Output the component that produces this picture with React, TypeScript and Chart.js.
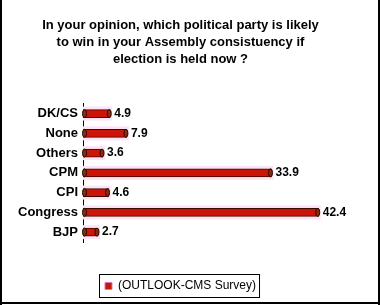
import React, { useEffect, useRef } from "react";
import { Chart, registerables } from "chart.js";

Chart.register(...registerables);

const categories = ["DK/CS", "None", "Others", "CPM", "CPI", "Congress", "BJP"];
const values = [4.9, 7.9, 3.6, 33.9, 4.6, 42.4, 2.7];
const seriesLabel = "(OUTLOOK-CMS Survey)";
const titleLines = [
  "In your opinion, which political party is likely",
  "to win in your Assembly consistuency if",
  "election is held now ?",
];

const FONT = "'Liberation Sans', Arial, sans-serif";

const decorPlugin = {
  id: "decor",
  beforeDatasetsDraw(chart: any) {
    const ctx = chart.ctx;
    const meta = chart.getDatasetMeta(0);
    ctx.save();
    ctx.fillStyle = "#fde3f6";
    meta.data.forEach((bar: any) => {
      const left = Math.min(bar.base, bar.x);
      const w = Math.abs(bar.x - bar.base);
      ctx.fillRect(left, bar.y - 7, w + 2, 14);
    });
    ctx.restore();
  },
  afterDatasetsDraw(chart: any) {
    const ctx = chart.ctx;
    const meta = chart.getDatasetMeta(0);
    const ds = chart.data.datasets[0];
    ctx.save();
    meta.data.forEach((bar: any, i: number) => {
      ctx.fillStyle = "#7a3414";
      ctx.strokeStyle = "#2a0800";
      ctx.lineWidth = 1;
      ctx.beginPath();
      ctx.ellipse(bar.base + 1.5, bar.y, 2, 4, 0, 0, Math.PI * 2);
      ctx.fill();
      ctx.stroke();
      ctx.fillStyle = "#8a2a10";
      ctx.beginPath();
      ctx.ellipse(bar.x - 1, bar.y, 2, 4, 0, 0, Math.PI * 2);
      ctx.fill();
      ctx.stroke();
      ctx.fillStyle = "#000";
      ctx.font = `bold 12px ${FONT}`;
      ctx.textAlign = "left";
      ctx.textBaseline = "middle";
      ctx.fillText(String(ds.data[i]), bar.x + 4, bar.y);
    });
    ctx.restore();
  },
  afterDraw(chart: any) {
    const ctx = chart.ctx;
    ctx.save();
    const hb = chart.legend && chart.legend.legendHitBoxes && chart.legend.legendHitBoxes[0];
    if (hb) {
      ctx.strokeStyle = "#000";
      ctx.lineWidth = 1;
      ctx.strokeRect(Math.round(hb.left) - 5.5, Math.round(hb.top) - 5.5, hb.width + 9, hb.height + 11);
    }
    ctx.fillStyle = "#000";
    ctx.fillRect(0, 0, 2, chart.height);
    ctx.fillRect(chart.width - 2, 0, 2, chart.height);
    ctx.fillRect(0, chart.height - 3, chart.width, 2);
    ctx.restore();
  },
};

export default function App() {
  const ref = useRef<HTMLCanvasElement | null>(null);
  useEffect(() => {
    if (!ref.current) return;
    const chart = new Chart(ref.current, {
      type: "bar",
      data: {
        labels: categories,
        datasets: [
          {
            label: seriesLabel,
            data: values,
            backgroundColor: "#cc1408",
            borderColor: "#3a0a00",
            borderWidth: 1,
            barThickness: 8,
          },
        ],
      },
      options: {
        indexAxis: "y",
        animation: false,
        responsive: false,
        layout: { padding: { left: 0, right: 19, top: 0, bottom: 3 } },
        scales: {
          x: {
            min: 0,
            max: 50,
            ticks: { display: false },
            grid: { display: false },
            border: { display: false },
            afterFit: (s: any) => {
              s.height = 32;
            },
          },
          y: {
            grid: { display: false, drawTicks: false },
            border: { display: true, color: "#000", width: 1 },
            ticks: {
              color: "#000",
              padding: 5,
              font: { family: FONT, size: 13, weight: "bold" },
            },
            afterFit: (s: any) => {
              s.width = 83;
            },
          },
        },
        plugins: {
          title: {
            display: true,
            text: titleLines,
            color: "#000",
            font: { family: FONT, size: 13, weight: "bold", lineHeight: 1.3 },
            padding: { top: 17, bottom: 36 },
          },
          legend: {
            display: true,
            position: "bottom",
            labels: {
              color: "#000",
              boxWidth: 7,
              boxHeight: 7,
              padding: 6,
              font: { family: FONT, size: 12 },
              generateLabels: () => [
                {
                  text: seriesLabel,
                  fillStyle: "#c01a0a",
                  strokeStyle: "#e070c0",
                  lineWidth: 1,
                  hidden: false,
                  datasetIndex: 0,
                },
              ],
            },
          },
          tooltip: { enabled: false },
        },
      },
      plugins: [decorPlugin],
    } as any);
    return () => chart.destroy();
  }, []);
  return (
    <div style={{ position: "absolute", left: 0, top: 0, width: 380, height: 305, background: "#fff" }}>
      <canvas ref={ref} width={380} height={305} style={{ width: 380, height: 305, display: "block" }} />
    </div>
  );
}
